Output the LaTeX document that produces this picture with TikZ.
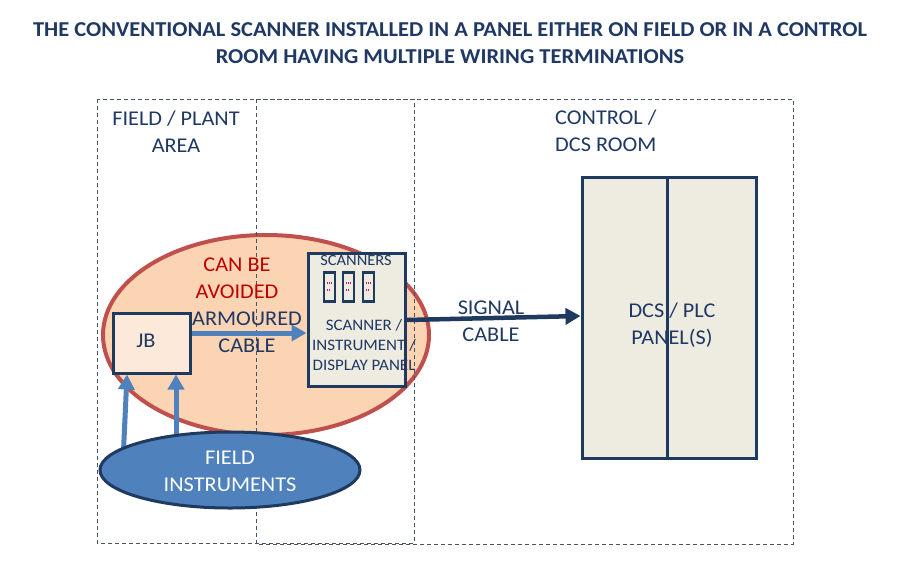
\documentclass[tikz,border=0pt]{standalone}
\usepackage{fontspec}
\setmainfont[FakeStretch=1.06]{Carlito}
\usetikzlibrary{arrows.meta,shapes.geometric}
\definecolor{navy}{HTML}{1F3864}
\definecolor{edgec}{HTML}{1F3A5F}
\definecolor{dashc}{HTML}{44546A}
\definecolor{redline}{HTML}{C0504D}
\definecolor{peach}{HTML}{FBD4B4}
\definecolor{jbfill}{HTML}{FDE9D9}
\definecolor{panelfill}{HTML}{EEECE1}
\definecolor{blueone}{HTML}{4F81BD}
\definecolor{darkred}{HTML}{C00000}
\definecolor{markred}{HTML}{D0106A}
\tikzset{
  dashbox/.style={draw=dashc, line width=0.9pt, dash pattern=on 4pt off 3pt},
  txt/.style={text=navy, align=center, font=\fontsize{21}{27}\selectfont, inner sep=0pt},
  panelbox/.style={draw=edgec, line width=3pt, fill=panelfill, inner sep=0pt},
  slotbox/.style={draw=edgec, line width=2.5pt, fill=panelfill, minimum width=11pt, minimum height=29pt, inner sep=0pt},
  bluearrow/.style={draw=blueone, line width=5pt, -{Triangle[length=15pt,width=16pt]}},
  navyarrow/.style={draw=edgec, line width=4.5pt, -{Triangle[length=15pt,width=16pt]}},
}
\begin{document}
\begin{tikzpicture}[x=1pt,y=-1pt]
\useasboundingbox (0,0) rectangle (904,573);
\fill[white] (0,0) rectangle (904,573);

% title
\node[txt, font=\bfseries\fontsize{21.2}{27}\selectfont] (title) at (450,43.5)
  {THE CONVENTIONAL SCANNER INSTALLED IN A PANEL EITHER ON FIELD OR IN A CONTROL\\ROOM HAVING MULTIPLE WIRING TERMINATIONS};

% red zone
\node[ellipse, draw=redline, line width=4pt, fill=peach, minimum width=326pt, minimum height=200pt, inner sep=0pt] (zone) at (266,335) {};

% dashed areas
\draw[dashbox] (97,99) rectangle (414,543);
\draw[dashbox] (256,99) rectangle (793,544);

% JB
\node[draw=edgec, line width=3pt, fill=jbfill, minimum width=77pt, minimum height=60pt, inner sep=0pt] (jb) at (151.5,343) {};
\node[txt] (jbl) at (146,341) {JB};

% scanner panel
\node[panelbox, minimum width=97pt, minimum height=133pt] (scan) at (356.5,319.5) {};
\node[txt, font=\fontsize{15.5}{17}\selectfont] (scanl) at (356,261) {SCANNERS};
\node[slotbox] (s1) at (329.5,287) {};
\node[slotbox] (s2) at (348.5,287) {};
\node[slotbox] (s3) at (368.5,287) {};
\foreach \n in {s1,s2,s3}{
  \fill[markred] ([xshift=-3pt,yshift=5pt]\n.center) rectangle ++(1.2pt,-2.2pt);
  \fill[markred] ([xshift=-1pt,yshift=5pt]\n.center) rectangle ++(1.2pt,-2.2pt);
  \fill[markred] ([xshift=1.5pt,yshift=5pt]\n.center) rectangle ++(1.2pt,-2.2pt);
  \fill[markred] ([xshift=-3pt,yshift=-2pt]\n.center) rectangle ++(1.2pt,-2.2pt);
  \fill[markred] ([xshift=-1pt,yshift=-2pt]\n.center) rectangle ++(1.2pt,-2.2pt);
}
\node[txt, font=\fontsize{16}{20}\selectfont] (scantxt) at (364,345) {SCANNER /\\INSTRUMENT /\\DISPLAY PANEL};

% DCS panel
\node[panelbox, minimum width=174pt, minimum height=281pt] (dcs) at (669,317.5) {};
\draw[draw=edgec, line width=3pt] ([xshift=-2pt]dcs.north) -- ([xshift=-2pt]dcs.south);
\node[txt] (dcsl) at (672,325) {DCS / PLC\\PANEL(S)};

% arrows
\draw[bluearrow] ([yshift=10pt]jb.east) -- ([yshift=-13.5pt]scan.west);
\draw[navyarrow] ([yshift=-0.5pt]scan.east) -- ([yshift=1.5pt]dcs.west);
\coordinate (f1) at (123,462);
\coordinate (f2) at (176,458);
\draw[bluearrow] (f1) -- ([xshift=-24.5pt]jb.south);
\draw[bluearrow] (f2) -- ([xshift=24.5pt]jb.south);

% field instruments
\node[ellipse, draw=edgec, line width=3pt, fill=blueone, minimum width=260pt, minimum height=76pt, inner sep=0pt] (fi) at (230,470) {};
\node[txt, text=white] (fil) at (230,471.5) {FIELD\\INSTRUMENTS};

% labels
\node[txt] (fpa) at (176,131.5) {FIELD / PLANT\\AREA};
\node[txt, align=left, anchor=west] (ctl) at (555,130.5) {CONTROL /\\DCS ROOM};
\node[txt, text=darkred] (avoid) at (237,278) {CAN BE\\AVOIDED};
\node[txt] (arm) at (247,332.5) {ARMOURED\\CABLE};
\node[txt] (sig) at (491,321.5) {SIGNAL\\CABLE};
\end{tikzpicture}
\end{document}
